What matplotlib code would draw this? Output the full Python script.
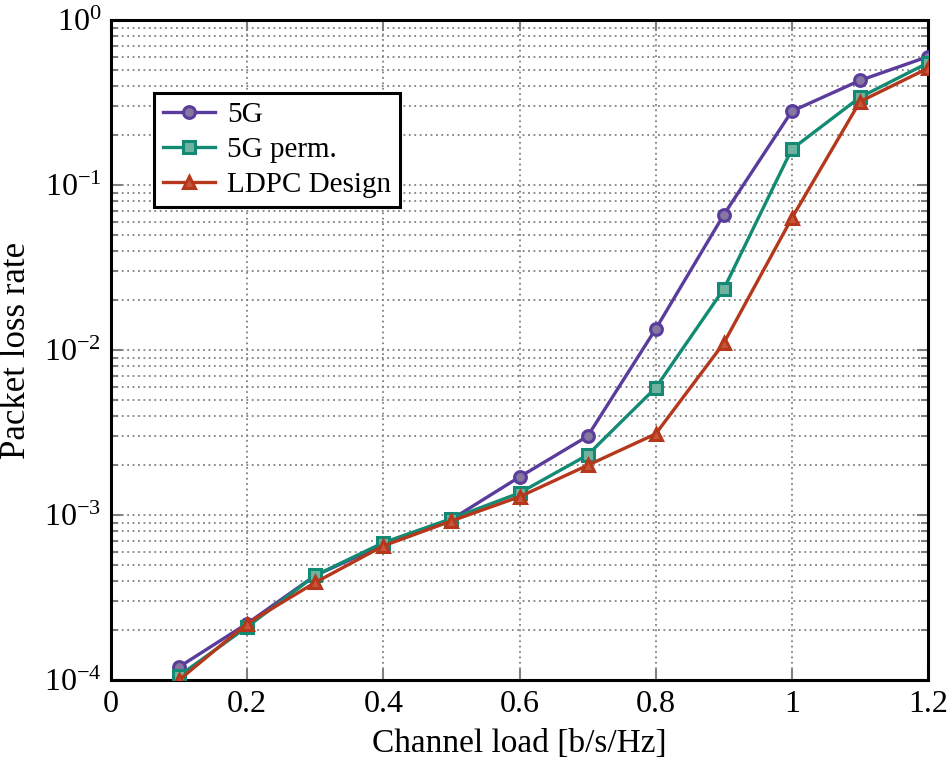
import numpy as np
import matplotlib
matplotlib.use('Agg')
import matplotlib.pyplot as plt
from matplotlib.ticker import LogLocator, FixedLocator

plt.rcParams['font.family'] = ['Liberation Serif', 'DejaVu Serif']
plt.rcParams['mathtext.fontset'] = 'stix'

load = [0.1, 0.2, 0.3, 0.4, 0.5, 0.6, 0.7, 0.8, 0.9, 1.0, 1.1, 1.2]
plr_5g = [1.2e-4, 2.2e-4, 4.3e-4, 6.6e-4, 9.4e-4, 1.7e-3, 3.0e-3, 1.34e-2, 0.066, 0.28, 0.43, 0.60]
plr_perm = [1.06e-4, 2.1e-4, 4.3e-4, 6.8e-4, 9.5e-4, 1.36e-3, 2.31e-3, 5.9e-3, 0.0234, 0.165, 0.34, 0.55]
plr_ldpc = [1.0e-4, 2.2e-4, 3.9e-4, 6.5e-4, 9.2e-4, 1.29e-3, 2.0e-3, 3.1e-3, 0.011, 0.063, 0.32, 0.51]
labels = ['5G', '5G perm.', 'LDPC Design']

fig = plt.figure(figsize=(9.52, 7.64), dpi=100)
ax = fig.add_axes([111/952, 84/764, 817/952, 660/764])

ax.plot(load, plr_5g, color='#5a3c9c', lw=2.4, marker='o', ms=8.5, mew=2.2,
        mfc='#85779f', mec='#5a3c9c', label=labels[0], zorder=3)
ax.plot(load, plr_perm, color='#138a73', lw=2.4, marker='s', ms=8.5, mew=2.2,
        mfc='#6fb3a0', mec='#138a73', label=labels[1], zorder=3)
ax.plot(load, plr_ldpc, color='#b5371c', lw=2.4, marker='^', ms=8.5, mew=2.2,
        mfc='#c8553a', mec='#b5371c', label=labels[2], zorder=3)

ax.set_yscale('log')
ax.set_xlim(0, 1.2)
ax.set_ylim(1e-4, 1)
ax.xaxis.set_major_locator(FixedLocator([0, 0.2, 0.4, 0.6, 0.8, 1.0, 1.2]))
ax.set_xticklabels(['0', '0.2', '0.4', '0.6', '0.8', '1', '1.2'])
ax.yaxis.set_major_locator(LogLocator(base=10, numticks=10))
ax.yaxis.set_minor_locator(LogLocator(base=10, subs=np.arange(2, 10), numticks=20))
ax.yaxis.set_minor_formatter(plt.NullFormatter())

ax.grid(True, which='major', color='#808080', ls=(0, (1, 2)), lw=1.3)
ax.grid(True, which='minor', axis='y', color='#808080', ls=(0, (1, 2)), lw=1.3)
ax.tick_params(which='both', direction='in', top=True, right=True, color='#808080',
               labelsize=23, pad=7)
ax.tick_params(which='major', length=8, width=1.5)
ax.tick_params(which='minor', length=5, width=1.5)
for s in ax.spines.values():
    s.set_linewidth(2.2)

ax.set_xlabel('Channel load [b/s/Hz]', fontsize=24, labelpad=7)
ax.set_ylabel('Packet loss rate', fontsize=25, labelpad=8)

leg = ax.legend(loc='upper left', bbox_to_anchor=(0.035, 0.912), fontsize=21,
                frameon=True, fancybox=False, edgecolor='black', framealpha=1,
                borderpad=0.3, labelspacing=0.3, handlelength=1.8, handletextpad=0.4)
leg.get_frame().set_linewidth(2.2)

fig.savefig('out.png', dpi=100)
